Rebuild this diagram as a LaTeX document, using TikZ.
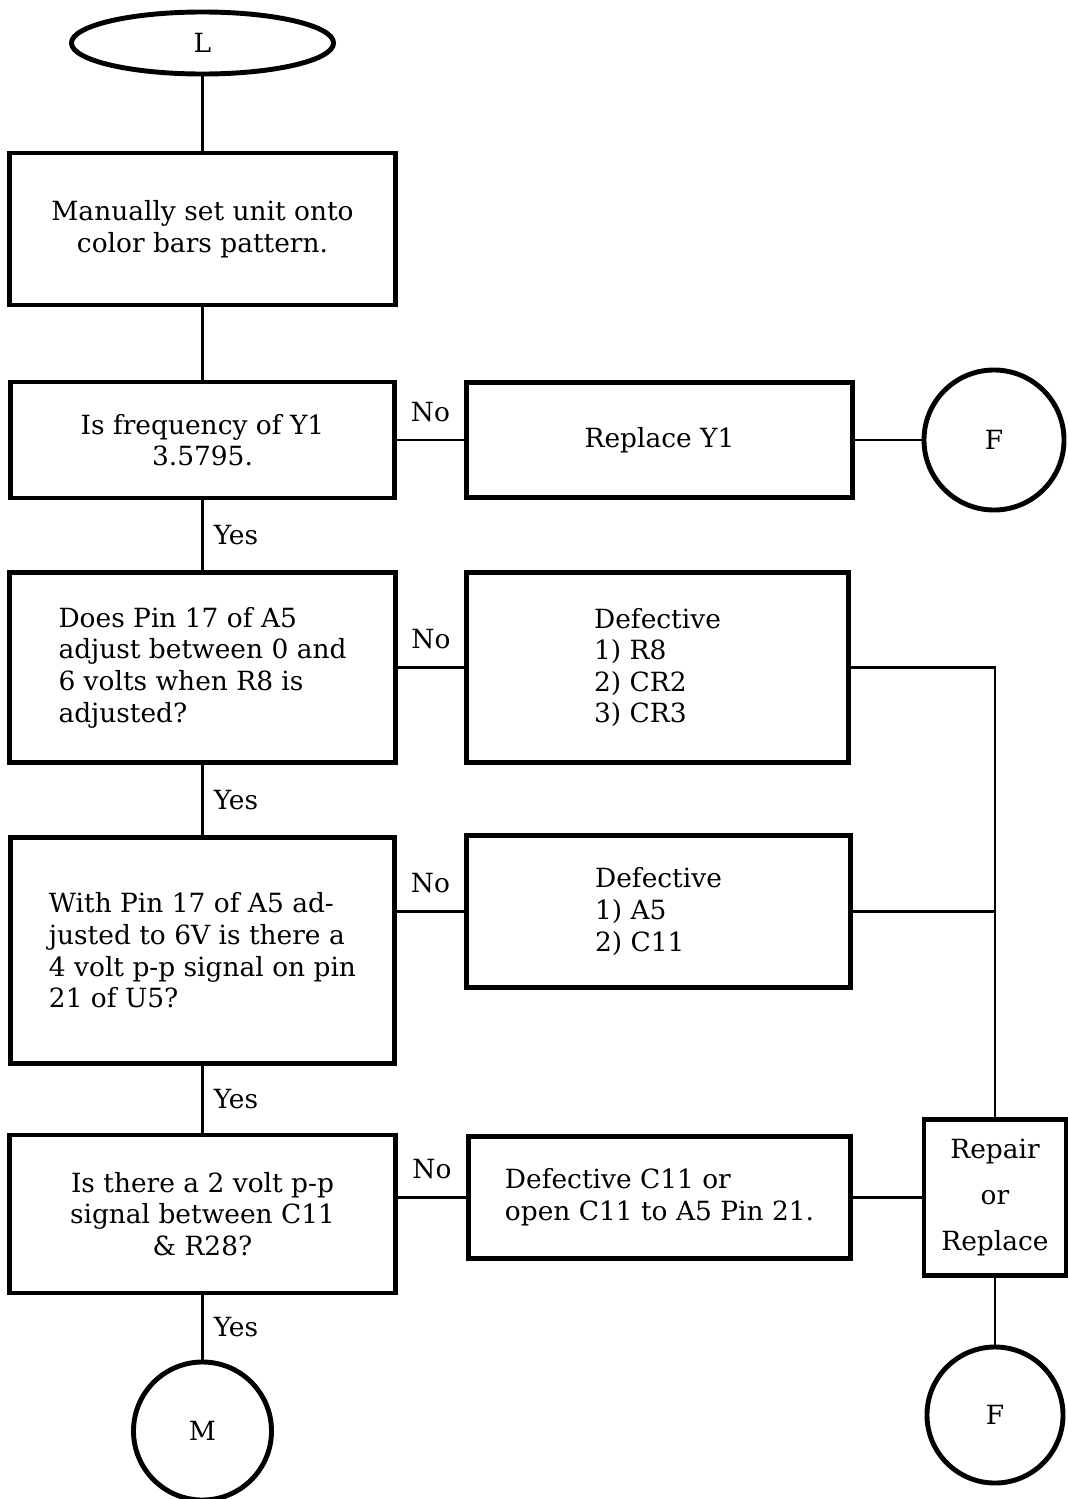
\documentclass[tikz,border=0pt]{standalone}
\usepackage{fontspec}
\setmainfont{DejaVu Serif}
\usetikzlibrary{positioning, shapes.geometric}

\begin{document}
\begin{tikzpicture}[x=0.025cm, y=-0.025cm, line width=2pt,
    font=\fontsize{18.8}{22.5}\selectfont,
    box/.style={draw, rectangle, line width=3.5pt, inner sep=0pt},
    term/.style={draw, circle, line width=3.5pt, inner sep=0pt},
    lbl/.style={inner sep=2pt}]
  \useasboundingbox (0,0) rectangle (1067,1499);

  \node[draw, ellipse, line width=3.5pt, minimum width=6.55cm, minimum height=1.55cm] (L) at (202.5,43) {L};
  \node[box, minimum width=9.63cm, minimum height=3.8cm, align=center] (set) at (202.5,229)
    {Manually set unit onto\\color bars pattern.};

  \node[box, minimum width=9.58cm, minimum height=2.9cm, align=center] (q1) at (202.5,440)
    {Is frequency of Y1\\3.5795.};
  \node[box, minimum width=9.63cm, minimum height=2.88cm] (r1) at (659.5,440) {Replace Y1};
  \node[term, minimum size=3.5cm] (f1) at (994,440) {F};

  \node[box, minimum width=9.63cm, minimum height=4.73cm, align=left] (q2) at (202.5,667.5)
    {Does Pin 17 of A5\\adjust between 0 and\\6 volts when R8 is\\adjusted?};
  \node[box, minimum width=9.53cm, minimum height=4.73cm, align=left] (d1) at (657.5,667.5)
    {Defective\\1) R8\\2) CR2\\3) CR3};

  \node[box, minimum width=9.58cm, minimum height=5.63cm, align=left] (q3) at (202.5,950.5)
    {With Pin 17 of A5 ad-\\justed to 6V is there a\\4 volt p-p signal on pin\\21 of U5?};
  \node[box, minimum width=9.58cm, minimum height=3.78cm, align=left] (d2) at (658.5,911.5)
    {Defective\\1) A5\\2) C11};

  \node[box, minimum width=9.63cm, minimum height=3.95cm, align=center] (q4) at (202.5,1214)
    {Is there a 2 volt p-p\\signal between C11\\\& R28?};
  \node[box, minimum width=9.53cm, minimum height=3.03cm, align=left] (d3) at (659.5,1197.5)
    {Defective C11 or\\open C11 to A5 Pin 21.};
  \node[box, minimum width=3.55cm, minimum height=3.88cm, align=center] (rep) at (995,1197.5)
    {Repair\\[0.36cm]or\\[0.36cm]Replace};

  \node[term, minimum size=3.45cm] (m) at (202.5,1431) {M};
  \node[term, minimum size=3.4cm] (f2) at (995,1415) {F};

  \draw (L) -- (set);
  \draw (set) -- (q1);
  \draw (q1) -- node[lbl, right=5pt] (yes1) {Yes} (q2);
  \draw (q2) -- node[lbl, right=5pt] (yes2) {Yes} (q3);
  \draw (q3) -- node[lbl, right=5pt] (yes3) {Yes} (q4);
  \draw (q4) -- node[lbl, right=5pt] (yes4) {Yes} (m);

  \draw (q1) -- node[lbl, above=10pt] (no1) {No} (r1);
  \draw (r1) -- (f1);
  \draw (q2) -- node[lbl, above=10pt] (no2) {No} (d1);
  \draw (d2.west -| q3.east) -- node[lbl, above=10pt] (no3) {No} (d2.west);
  \draw (d3.west -| q4.east) -- node[lbl, above=10pt] (no4) {No} (d3.west);
  \draw (d3) -- (rep);

  \draw[line width=1.5pt] (d1) -| (rep);
  \draw[line width=1.5pt] (d2) -- (d2 -| rep);
  \draw (rep) -- (f2);
\end{tikzpicture}
\end{document}
